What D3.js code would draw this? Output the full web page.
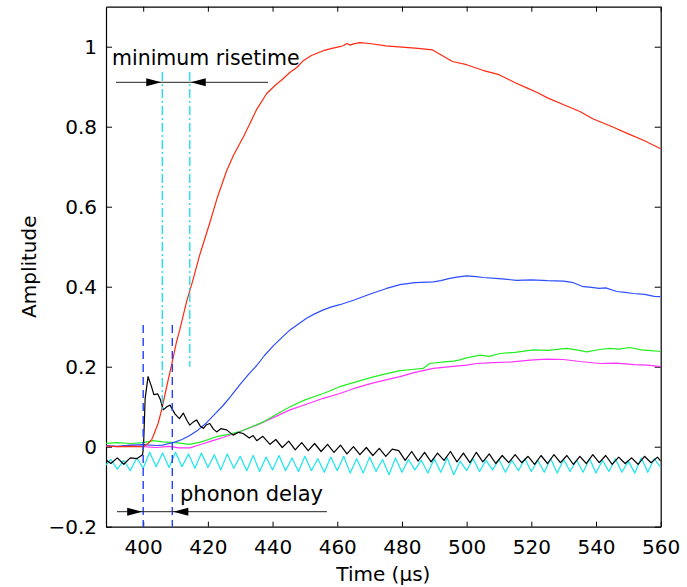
<!DOCTYPE html>
<html>
<head>
<meta charset="utf-8">
<script src="https://cdn.jsdelivr.net/npm/d3@7"></script>
<style>
  html, body { margin: 0; padding: 0; background: #fff; }
  svg text { font-family: "DejaVu Sans", "Liberation Sans", Arial, sans-serif; }
</style>
</head>
<body>
<svg id="chart" width="687" height="587"></svg>
<script>
// ---------------- data ----------------
const xTicks = [400, 420, 440, 460, 480, 500, 520, 540, 560];
const xTickLabels = ["400", "420", "440", "460", "480", "500", "520", "540", "560"];
const yTicks = [-0.2, 0, 0.2, 0.4, 0.6, 0.8, 1];
const yTickLabels = ["\u22120.2", "0", "0.2", "0.4", "0.6", "0.8", "1"];

const redT = [388, 392, 396, 400, 400.5, 401.5, 402.6, 403.5, 404.6, 405.7, 407.2, 408.8, 410.3, 411.3, 413.4, 415.5, 417.5, 420.6, 423, 425.8, 428, 431, 433, 435, 438.2, 441, 443, 445.4, 447.5, 449.5, 452, 455.7, 458, 460.8, 462, 463, 464, 465, 467, 470, 475, 480, 485, 489.5, 492, 495.6, 500, 505, 510, 515, 518.6, 522, 525, 530, 535, 539, 545, 550, 555, 560];
const redV = [0.002, 0.000, 0.001, 0.000, 0.003, 0.008, 0.017, 0.035, 0.058, 0.092, 0.148, 0.205, 0.262, 0.292, 0.362, 0.42, 0.48, 0.56, 0.625, 0.69, 0.73, 0.775, 0.808, 0.842, 0.883, 0.905, 0.918, 0.936, 0.948, 0.965, 0.978, 0.99, 0.995, 1.0, 1.003, 1.008, 1.004, 1.007, 1.01, 1.008, 1.002, 0.999, 0.996, 0.992, 0.98, 0.963, 0.955, 0.941, 0.93, 0.91, 0.897, 0.885, 0.872, 0.855, 0.838, 0.82, 0.8, 0.782, 0.765, 0.745];

const blueT = [388, 392, 396, 400, 404, 406, 408, 410, 412, 414.4, 417, 419.6, 422, 424.7, 427, 429.9, 432.5, 435.1, 437.5, 440.2, 443, 445.4, 448, 450.5, 453, 455.7, 458, 460.8, 465, 470, 475, 479.4, 484, 489.7, 492, 494.8, 497, 500, 503, 505.1, 510, 515.5, 520, 525, 530, 533, 536.1, 538, 541, 543, 546.4, 549, 551.5, 555, 558, 560];
const blueV = [0.003, 0.001, 0.004, 0.005, 0.003, 0.004, 0.008, 0.012, 0.018, 0.028, 0.042, 0.06, 0.08, 0.103, 0.125, 0.155, 0.18, 0.203, 0.228, 0.252, 0.274, 0.292, 0.307, 0.321, 0.332, 0.342, 0.349, 0.355, 0.366, 0.381, 0.395, 0.405, 0.41, 0.412, 0.415, 0.421, 0.424, 0.427, 0.425, 0.423, 0.42, 0.416, 0.417, 0.415, 0.414, 0.41, 0.4, 0.399, 0.396, 0.397, 0.388, 0.386, 0.383, 0.381, 0.376, 0.375];

const greenT = [388, 392, 396, 400, 403, 406, 410, 414.4, 418, 422.7, 426, 430, 433, 437.1, 441, 445.4, 450, 455.7, 460.8, 465, 470, 475, 479.4, 483, 486.6, 488.6, 493, 496, 497.9, 500, 504.1, 507, 510.3, 515, 520.6, 525, 530.9, 534, 537.1, 541, 544.3, 547, 550.5, 554, 557, 560];
const greenV = [0.008, 0.010, 0.008, 0.010, 0.015, 0.012, 0.010, 0.006, 0.012, 0.025, 0.03, 0.038, 0.048, 0.062, 0.08, 0.1, 0.117, 0.133, 0.15, 0.16, 0.172, 0.182, 0.19, 0.193, 0.196, 0.208, 0.212, 0.214, 0.217, 0.222, 0.229, 0.226, 0.233, 0.236, 0.242, 0.241, 0.246, 0.242, 0.237, 0.243, 0.246, 0.244, 0.248, 0.242, 0.24, 0.238];

const magentaT = [388, 392, 396, 400, 404, 408, 411, 414.4, 418, 421, 424.7, 430, 435.1, 440, 445.4, 450, 455.7, 460.8, 465, 470, 475, 479.4, 484, 489.7, 495, 500, 503.1, 508, 514, 520.6, 525, 529.9, 535, 541.3, 546, 552, 556, 560];
const magentaV = [0.002, 0.000, 0.003, 0.000, -0.002, 0.001, -0.003, -0.003, 0.006, 0.014, 0.023, 0.038, 0.054, 0.072, 0.092, 0.105, 0.121, 0.133, 0.145, 0.157, 0.167, 0.175, 0.186, 0.196, 0.2, 0.204, 0.208, 0.21, 0.212, 0.217, 0.219, 0.218, 0.213, 0.208, 0.209, 0.205, 0.204, 0.2];

const blackT = [388, 390, 392, 394, 396, 398, 399.8, 400.1, 400.6, 401.5, 402.5, 403.3, 404.5, 405.3, 406.2, 407.3, 408.3, 409.8, 411.2, 412.4, 413.5, 414.4, 415.5, 416.5, 417.6, 418.6, 419.6, 420.6, 421.7, 422.7, 424, 425.8, 427.8, 429.5, 430.9, 432.8, 434, 435.1, 437, 439.2, 441, 443, 445, 447, 449, 451, 453, 455, 457, 459, 461, 463, 465, 467, 469, 471, 473, 475, 477, 479, 481, 483, 485, 487, 489, 491, 493, 495, 497, 499, 501, 503, 505, 507, 509, 511, 513, 515, 517, 519, 521, 523, 525, 527, 529, 531, 533, 535, 537, 539, 541, 543, 545, 547, 549, 551, 553, 555, 557, 559, 560];
const blackV = [-0.030, -0.042, -0.028, -0.044, -0.028, -0.030, -0.020, 0.000, 0.120, 0.175, 0.152, 0.130, 0.132, 0.118, 0.092, 0.100, 0.104, 0.082, 0.070, 0.084, 0.066, 0.054, 0.062, 0.067, 0.052, 0.046, 0.055, 0.058, 0.044, 0.037, 0.045, 0.042, 0.029, 0.036, 0.033, 0.022, 0.028, 0.015, 0.026, 0.006, 0.018, -0.002, 0.014, -0.008, 0.010, -0.010, 0.008, -0.012, 0.006, -0.014, 0.004, -0.018, 0.000, -0.020, -0.002, -0.022, -0.004, -0.024, -0.006, -0.010, -0.034, -0.012, -0.036, -0.014, -0.038, -0.016, -0.034, -0.012, -0.038, -0.016, -0.040, -0.014, -0.038, -0.018, -0.042, -0.022, -0.040, -0.020, -0.040, -0.024, -0.044, -0.022, -0.042, -0.020, -0.040, -0.022, -0.044, -0.024, -0.042, -0.020, -0.040, -0.022, -0.044, -0.026, -0.042, -0.028, -0.044, -0.024, -0.040, -0.026, -0.036];

const cyanT = [388, 390, 392, 394, 396, 398, 400, 402, 404, 406, 408, 410, 412, 414, 416, 418, 420, 422, 424, 426, 428, 430, 432, 434, 436, 438, 440, 442, 444, 446, 448, 450, 452, 454, 456, 458, 460, 462, 464, 466, 468, 470, 472, 474, 476, 478, 480, 482, 484, 486, 488, 490, 492, 494, 496, 498, 500, 502, 504, 506, 508, 510, 512, 514, 516, 518, 520, 522, 524, 526, 528, 530, 532, 534, 536, 538, 540, 542, 544, 546, 548, 550, 552, 554, 556, 558, 560];
const cyanV = [-0.050, -0.032, -0.056, -0.034, -0.060, -0.028, -0.054, -0.014, -0.050, -0.016, -0.052, -0.014, -0.050, -0.018, -0.054, -0.016, -0.052, -0.020, -0.058, -0.018, -0.054, -0.024, -0.060, -0.022, -0.062, -0.026, -0.058, -0.022, -0.060, -0.028, -0.062, -0.024, -0.060, -0.030, -0.064, -0.026, -0.060, -0.024, -0.066, -0.030, -0.066, -0.026, -0.062, -0.032, -0.070, -0.028, -0.064, -0.032, -0.058, -0.034, -0.066, -0.030, -0.064, -0.028, -0.070, -0.036, -0.060, -0.030, -0.062, -0.034, -0.058, -0.032, -0.064, -0.034, -0.060, -0.030, -0.062, -0.034, -0.064, -0.030, -0.066, -0.032, -0.062, -0.034, -0.064, -0.030, -0.066, -0.034, -0.062, -0.030, -0.064, -0.036, -0.066, -0.028, -0.064, -0.030, -0.052];

// annotation values (data units)
const risetimeMarks = [405.9, 414.4];      // cyan dash-dot lines (time)
const risetimeTops = [0.937, 0.937];
const risetimeBottoms = [0.09, 0.2];
const risetimeArrow = { y: 0.911, from: 391.6, to: 438.6 };
const phononMarks = [400, 409];            // blue dashed lines (time)
const phononTop = 0.304;
const phononArrow = { y: -0.1625, from: 391.9, to: 456.8 };

// ---------------- layout ----------------
const L = 106, R = 660.7, T = 6.7, B = 526.7;
const x = d3.scaleLinear().domain([388.5, 560]).range([L, R]);
const y = d3.scaleLinear().domain([-0.2, 1.1]).range([B, T]);

const svg = d3.select("#chart");
const fontSize = 20;

svg.append("defs").append("clipPath").attr("id", "clip")
  .append("rect").attr("x", L).attr("y", T).attr("width", R - L).attr("height", B - T);

// axes
const ax = svg.append("g").attr("class", "axes");
const xb = d3.axisBottom(x).tickValues(xTicks).tickFormat((d, i) => xTickLabels[i]).tickSize(-5).tickSizeOuter(0).tickPadding(13);
const xt = d3.axisTop(x).tickValues(xTicks).tickFormat("").tickSize(-5).tickSizeOuter(0);
const yl = d3.axisLeft(y).tickValues(yTicks).tickFormat((d, i) => yTickLabels[i]).tickSize(-6).tickSizeOuter(0).tickPadding(9);
const yr = d3.axisRight(y).tickValues(yTicks).tickFormat("").tickSize(-6).tickSizeOuter(0);

ax.append("g").attr("transform", `translate(0,${B})`).call(xb);
ax.append("g").attr("transform", `translate(0,${T})`).call(xt);
ax.append("g").attr("transform", `translate(${L},0)`).call(yl);
ax.append("g").attr("transform", `translate(${R},0)`).call(yr);
ax.selectAll(".domain").attr("stroke", "#000").attr("stroke-width", 1.2);
ax.selectAll(".tick line").attr("stroke", "#000").attr("stroke-width", 1);
ax.selectAll(".tick text").attr("font-size", fontSize).attr("fill", "#000")
  .style("font-family", '"DejaVu Sans", "Liberation Sans", Arial, sans-serif');

// axis titles
svg.append("text").attr("x", (L + R) / 2).attr("y", 581).attr("text-anchor", "middle")
  .attr("font-size", fontSize).text("Time (\u03bcs)");
svg.append("text").attr("transform", `translate(36,${(T + B) / 2}) rotate(-90)`)
  .attr("text-anchor", "middle").attr("font-size", fontSize).text("Amplitude");

// series
const plot = svg.append("g").attr("clip-path", "url(#clip)");
const line = d3.line().x(d => x(d[0])).y(d => y(d[1]));
const series = [
  { t: magentaT, v: magentaV, c: "#ff33ff" },
  { t: greenT, v: greenV, c: "#22ee22" },
  { t: blueT, v: blueV, c: "#2d4dff" },
  { t: redT, v: redV, c: "#ff2a10" },
  { t: cyanT, v: cyanV, c: "#18e6ee" },
  { t: blackT, v: blackV, c: "#000000" }
];
series.forEach(s => {
  plot.append("path").datum(s.t.map((t, i) => [t, s.v[i]]))
    .attr("d", line).attr("fill", "none").attr("stroke", s.c)
    .attr("stroke-width", 1.2).attr("stroke-linejoin", "round");
});

// annotations
const ann = svg.append("g");
risetimeMarks.forEach((t, i) => {
  ann.append("line").attr("x1", x(t)).attr("x2", x(t))
    .attr("y1", y(risetimeTops[i])).attr("y2", y(risetimeBottoms[i]))
    .attr("stroke", "#10e0f0").attr("stroke-width", 1.3).attr("stroke-dasharray", "9,3,2,3");
});
phononMarks.forEach(t => {
  ann.append("line").attr("x1", x(t)).attr("x2", x(t))
    .attr("y1", y(phononTop)).attr("y2", y(-0.2))
    .attr("stroke", "#2040ff").attr("stroke-width", 1.4).attr("stroke-dasharray", "8,5");
});

function arrowPair(arrow, marks) {
  const yy = y(arrow.y);
  ann.append("line").attr("x1", x(arrow.from)).attr("x2", x(arrow.to))
    .attr("y1", yy).attr("y2", yy).attr("stroke", "#222").attr("stroke-width", 1);
  const hl = 15, hw = 4;
  const tip1 = x(marks[0]) - 1, tip2 = x(marks[1]) + 1;
  ann.append("path").attr("d", `M${tip1},${yy} L${tip1 - hl},${yy - hw} L${tip1 - hl},${yy + hw} Z`).attr("fill", "#000");
  ann.append("path").attr("d", `M${tip2},${yy} L${tip2 + hl},${yy - hw} L${tip2 + hl},${yy + hw} Z`).attr("fill", "#000");
}
arrowPair(risetimeArrow, risetimeMarks);
arrowPair(phononArrow, phononMarks);

ann.append("text").attr("x", 112).attr("y", 65).attr("font-size", 20.5).text("minimum risetime");
ann.append("text").attr("x", 180).attr("y", 501).attr("font-size", 21).text("phonon delay");
</script>
</body>
</html>
